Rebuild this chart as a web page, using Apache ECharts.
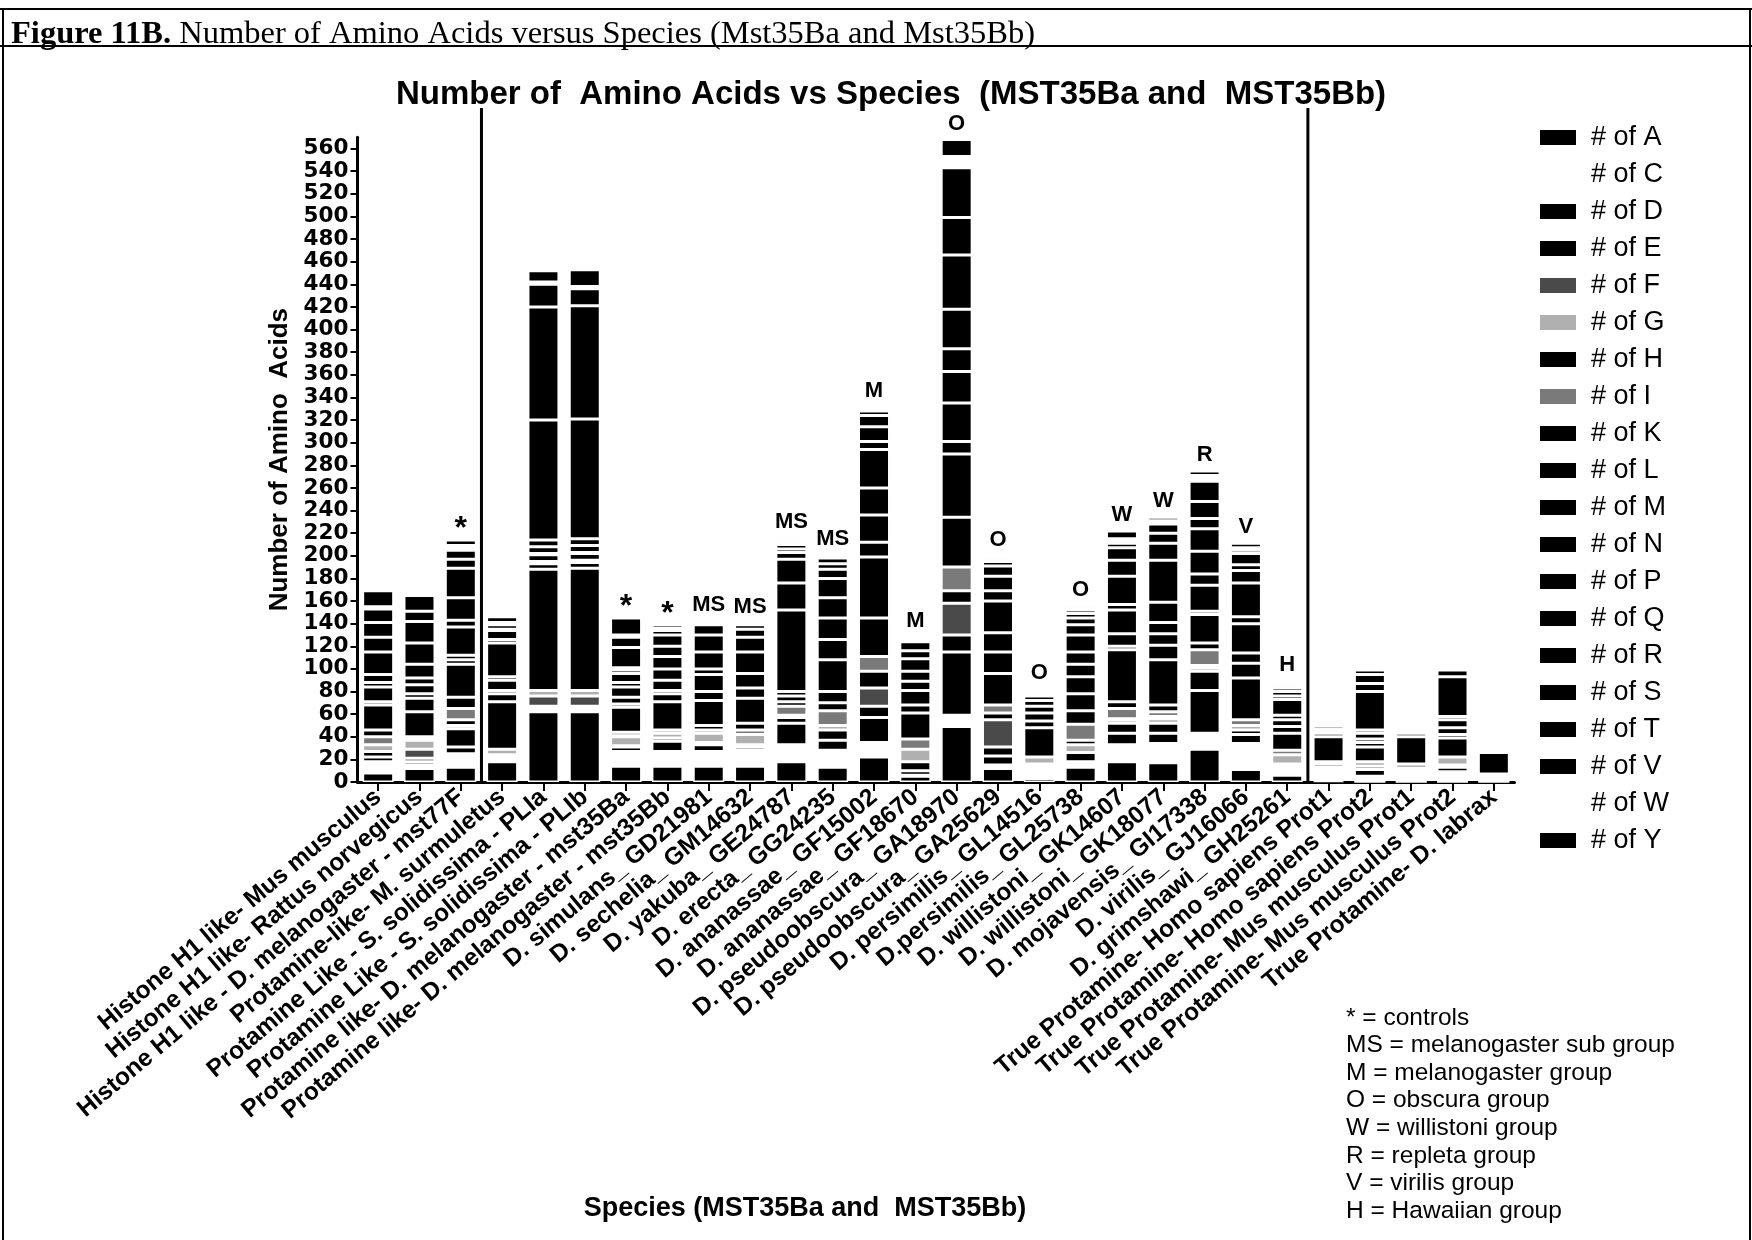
<!DOCTYPE html>
<html><head><meta charset="utf-8">
<script src="https://cdn.jsdelivr.net/npm/echarts@6/dist/echarts.min.js"></script>
<style>html,body{margin:0;padding:0;background:#fff}#c{width:1752px;height:1240px}</style>
</head><body><div id="c"></div>
<script>
const categories = [
  'Histone H1 like- Mus musculus',
  'Histone H1 like- Rattus norvegicus',
  'Histone H1 like - D. melanogaster - mst77F',
  'Protamine-like- M. surmuletus',
  'Protamine Like - S. solidissima - PLIa',
  'Protamine Like - S. solidissima - PLIb',
  'Protamine like- D. melanogaster - mst35Ba',
  'Protamine like- D. melanogaster - mst35Bb',
  'D. simulans_ GD21981',
  'D. sechelia_ GM14632',
  'D. yakuba_ GE24787',
  'D. erecta_ GG24235',
  'D. ananassae_ GF15002',
  'D. ananassae_ GF18670',
  'D. pseudoobscura_ GA18970',
  'D. pseudoobscura_ GA25629',
  'D. persimilis_ GL14516',
  'D.persimilis_ GL25738',
  'D. willistoni_ GK14607',
  'D. willistoni_ GK18077',
  'D. mojavensis_ GI17338',
  'D. virilis_ GJ16066',
  'D. grimshawi_ GH25261',
  'True Protamine- Homo sapiens Prot1',
  'True Protamine- Homo sapiens Prot2',
  'True Protamine- Mus musculus Prot1',
  'True Protamine- Mus musculus Prot2',
  'True Protamine- D. labrax'
];
const groupMarks = ['', '', '*', '', '', '', '*', '*', 'MS', 'MS', 'MS', 'MS', 'M', 'M', 'O', 'O', 'O', 'O', 'W', 'W', 'R', 'V', 'H', '', '', '', '', ''];
const aminoAcids = ['A','C','D','E','F','G','H','I','K','L','M','N','P','Q','R','S','T','V','W','Y'];

const A = [8,12,13,18,62,62,14,14,14,14,18,13,22,5,49,12,3,13,18,17,29,11,6,1,0,0,0,0];
const C = [10,3,12,3,5,5,13,13,13,14,15,15,13,1,10,3,13,3,15,17,14,23,10,11,5,12,9,7];
const D = [4,3,6,2,0,0,4,9,6,3,19,9,22,4,56,8,0,2,10,9,38,8,0,0,6,0,4,0];
const E = [5,3,16,1,0,0,1,3,2,2,5,9,10,8,15,8,0,8,9,9,17,4,0,0,3,0,2,0];
const F = [0,8,0,0,9,9,0,0,0,0,0,0,16,0,28,24,0,0,0,0,0,0,0,0,0,0,0,0];
const G = [6,8,3,5,5,5,8,4,8,9,0,4,0,11,0,0,6,7,3,4,3,4,8,1,4,4,7,0];
const H = [0,2,5,0,0,0,1,0,0,0,2,0,15,0,11,6,0,4,1,2,2,0,0,3,13,0,17,0];
const I = [7,1,10,0,0,0,3,3,3,4,8,13,13,9,21,7,0,14,9,4,14,5,4,0,0,0,0,0];
const K = [6,22,10,42,107,108,22,25,4,6,4,7,34,23,44,28,26,12,6,6,6,37,15,0,4,0,3,0];
const L = [22,12,29,7,5,5,3,7,22,22,5,10,54,7,56,19,6,15,46,40,25,13,6,0,3,0,0,0];
const M = [3,4,4,3,2,2,6,3,8,9,4,28,13,13,11,17,7,15,3,13,3,9,6,2,5,0,6,0];
const N = [13,8,4,9,6,6,9,9,15,13,72,18,24,8,34,28,6,11,11,10,23,26,4,0,3,0,7,0];
const P = [4,6,25,3,1,1,4,10,5,19,24,19,24,9,28,9,5,11,21,10,10,6,14,0,34,0,3,0];
const Q = [7,12,6,30,6,6,8,11,15,13,21,18,34,11,20,13,4,15,5,18,20,30,3,0,7,0,0,0];
const R = [20,19,20,3,6,6,3,9,15,7,6,17,7,7,35,9,2,9,25,37,20,11,4,22,8,24,35,19];
const S = [13,19,26,8,106,106,2,10,9,4,3,8,13,8,48,4,2,6,14,15,9,5,3,3,4,3,6,0];
const T = [13,9,8,1,100,100,18,4,0,1,4,5,10,2,33,2,0,4,11,9,15,10,2,2,0,2,2,0];
const V = [12,14,8,4,20,15,9,2,2,0,0,5,4,2,44,2,0,3,4,8,18,3,2,2,0,0,0,0];
const W = [2,0,4,2,2,2,2,0,0,0,4,1,2,0,10,0,1,2,4,3,5,2,0,0,0,3,2,5];
const Y = [14,1,5,5,10,15,15,3,1,0,2,2,2,0,15,0,1,2,7,3,4,4,2,3,1,2,1,2];

const yMin = 0, yMax = 570, yInterval = 20;

const aaData = {A,C,D,E,F,G,H,I,K,L,M,N,P,Q,R,S,T,V,W,Y};
const fillOf = {C:'#ffffff', W:'#ffffff', F:'#4a4a4a', G:'#b0b0b0', I:'#7a7a7a'};
const SANS = '"Liberation Sans", Arial, sans-serif';

const chart = echarts.init(document.getElementById('c'), null, {renderer:'canvas'});

const series = aminoAcids.map(k => {
  const s = {
    name: '# of ' + k,
    type: 'bar',
    stack: 'aa',
    data: aaData[k],
    barWidth: 31,
    silent: true,
    itemStyle: {color: fillOf[k] || '#000000', borderColor: '#ffffff', borderWidth: 1.5},
    emphasis: {disabled: true}
  };
  if (k === 'Y') {
    s.label = {
      show: true, position: 'top', distance: 5,
      formatter: p => groupMarks[p.dataIndex] === '*' ? '{s|*}' : groupMarks[p.dataIndex],
      fontFamily: SANS, fontWeight: 'bold', fontSize: 22, color: '#000',
      rich: {s: {fontFamily: SANS, fontWeight: 'bold', fontSize: 32, color: '#000', padding: [0, 0, -10, 0]}}
    };
  }
  return s;
});

const option = {
  animation: false,
  backgroundColor: '#ffffff',
  title: [
    {
      text: 'Number of  Amino Acids vs Species  (MST35Ba and  MST35Bb)',
      left: 886, top: 73, textAlign: 'center',
      textStyle: {fontFamily: SANS, fontWeight: 'bold', fontSize: 33, color: '#000'}
    },
    {
      text: '{b|Figure 11B.} Number of Amino Acids versus Species (Mst35Ba and Mst35Bb)',
      left: 6, top: 13,
      textStyle: {fontFamily: '"Liberation Serif", "Times New Roman", serif', fontSize: 32.5, fontWeight: 'normal', color: '#000',
        rich: {b: {fontFamily: '"Liberation Serif", "Times New Roman", serif', fontSize: 32.5, fontWeight: 'bold', color: '#000'}}}
    },
    {
      text: 'Species (MST35Ba and  MST35Bb)',
      left: 800, top: 1190, textAlign: 'center',
      textStyle: {fontFamily: SANS, fontWeight: 'bold', fontSize: 27, color: '#000'}
    },
    {
      text: '* = controls\nMS = melanogaster sub group\nM = melanogaster group\nO = obscura group\nW = willistoni group\nR = repleta group\nV = virilis group\nH = Hawaiian group',
      left: 1341, top: 999,
      textStyle: {fontFamily: SANS, fontWeight: 'normal', fontSize: 24.5, lineHeight: 27.6, color: '#000'}
    }
  ],
  legend: {
    orient: 'vertical', left: 1535, top: 119,
    data: aminoAcids.map(k => '# of ' + k),
    icon: 'rect', itemWidth: 36, itemHeight: 15, itemGap: 10,
    itemStyle: {borderWidth: 0},
    textStyle: {fontFamily: SANS, fontSize: 27, color: '#000', padding: [0, 0, 0, 10]},
    selectedMode: false
  },
  grid: {left: 357.5, right: 237.5, top: 137.3, bottom: 458, containLabel: false, outerBoundsMode: 'none'},
  xAxis: {
    type: 'category', data: categories,
    axisLine: {lineStyle: {color: '#000', width: 3}},
    axisTick: {show: true, alignWithLabel: true, length: 9, lineStyle: {color: '#000', width: 2}},
    axisLabel: {interval: 0, rotate: 40, margin: 12, fontFamily: SANS, fontWeight: 'bold', fontSize: 24.5, color: '#000'},
    splitLine: {show: false}
  },
  yAxis: {
    type: 'value', min: yMin, max: yMax, interval: yInterval,
    name: 'Number of Amino  Acids', nameLocation: 'middle', nameGap: 64, nameRotate: 90,
    nameTextStyle: {fontFamily: SANS, fontWeight: 'bold', fontSize: 26, color: '#000'},
    axisLine: {show: true, lineStyle: {color: '#000', width: 3}},
    axisTick: {show: true, length: 7, lineStyle: {color: '#000', width: 2}},
    axisLabel: {showMaxLabel: false, margin: 9, fontFamily: '"DejaVu Sans", sans-serif', fontWeight: 'bold', fontSize: 21.5, color: '#000'},
    splitLine: {show: false}
  },
  series: series
};
chart.setOption(option);

const xAt = i => chart.convertToPixel({xAxisIndex: 0}, categories[i]);
const yBase = chart.convertToPixel({yAxisIndex: 0}, 0);
const sep1 = (xAt(2) + xAt(3)) / 2;
const sep2 = (xAt(22) + xAt(23)) / 2;
chart.setOption({
  graphic: [
    {type: 'line', shape: {x1: 0, y1: 9, x2: 1752, y2: 9}, style: {stroke: '#000', lineWidth: 2}},
    {type: 'line', shape: {x1: 0, y1: 46, x2: 1752, y2: 46}, style: {stroke: '#000', lineWidth: 2}},
    {type: 'line', shape: {x1: 3, y1: 9, x2: 3, y2: 1240}, style: {stroke: '#000', lineWidth: 2}},
    {type: 'line', shape: {x1: 1750, y1: 9, x2: 1750, y2: 1240}, style: {stroke: '#000', lineWidth: 2}},
    {type: 'line', shape: {x1: sep1, y1: 108, x2: sep1, y2: yBase}, style: {stroke: '#000', lineWidth: 3}},
    {type: 'line', shape: {x1: sep2, y1: 108, x2: sep2, y2: yBase}, style: {stroke: '#000', lineWidth: 3}}
  ]
});
</script></body></html>
